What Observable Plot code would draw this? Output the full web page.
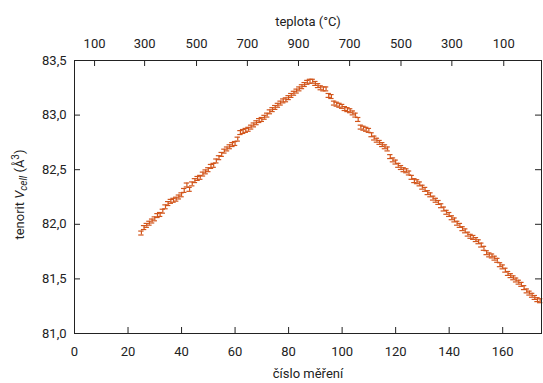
<!DOCTYPE html>
<html><head><meta charset="utf-8">
<script src="https://cdn.jsdelivr.net/npm/d3@7"></script>
<script src="https://cdn.jsdelivr.net/npm/@observablehq/plot@0.6"></script>
<style>body{margin:0;background:#fff} svg{display:block}</style>
</head><body><div id="chart"></div>
<script>
const measurement = [25,26,27,28,29,30,31,32,33,34,35,36,37,38,39,40,41,42,43,44,45,46,47,48,49,50,51,52,53,54,55,56,57,58,59,60,61,62,63,64,65,66,67,68,69,70,71,72,73,74,75,76,77,78,79,80,81,82,83,84,85,86,87,88,89,90,91,92,93,94,95,96,97,98,99,100,101,102,103,104,105,106,107,108,109,110,111,112,113,114,115,116,117,118,119,120,121,122,123,124,125,126,127,128,129,130,131,132,133,134,135,136,137,138,139,140,141,142,143,144,145,146,147,148,149,150,151,152,153,154,155,156,157,158,159,160,161,162,163,164,165,166,167,168,169,170,171,172,173,174];
const volume = [81.92,81.97,81.99,82.01,82.03,82.05,82.08,82.09,82.12,82.16,82.19,82.21,82.22,82.23,82.25,82.27,82.31,82.36,82.32,82.37,82.40,82.42,82.43,82.46,82.48,82.50,82.53,82.54,82.58,82.61,82.64,82.67,82.69,82.71,82.73,82.74,82.78,82.84,82.85,82.86,82.87,82.89,82.91,82.93,82.95,82.96,82.98,83.00,83.03,83.05,83.07,83.09,83.11,83.13,83.14,83.16,83.18,83.20,83.22,83.24,83.26,83.28,83.30,83.31,83.31,83.29,83.27,83.25,83.24,83.24,83.18,83.17,83.11,83.10,83.09,83.08,83.06,83.05,83.04,83.02,83.00,82.96,82.89,82.88,82.87,82.86,82.82,82.79,82.77,82.75,82.73,82.71,82.69,82.62,82.59,82.57,82.54,82.52,82.50,82.49,82.47,82.43,82.40,82.39,82.37,82.34,82.32,82.29,82.27,82.24,82.22,82.20,82.17,82.14,82.11,82.09,82.06,82.04,82.01,81.99,81.96,81.94,81.91,81.89,81.88,81.86,81.84,81.81,81.78,81.74,81.72,81.71,81.69,81.67,81.63,81.61,81.58,81.55,81.53,81.51,81.49,81.47,81.45,81.42,81.39,81.37,81.35,81.33,81.31,81.30];
const volumeError = 0.018;
const xTicks = [0,20,40,60,80,100,120,140,160];
const yTicks = [81.0,81.5,82.0,82.5,83.0,83.5];
const topTickAt = [7.5,26.2,45.6,64.6,83.7,102.8,122.0,141.0,160.4];
const topTickLabels = ["100","300","500","700","900","700","500","300","100"];

const data = measurement.map((m, i) => ({m, v: volume[i]}));
const topLabel = new Map(topTickAt.map((t, i) => [t, topTickLabels[i]]));

const W = 543, H = 383;
const mL = 74, mR = 2, mT = 60, mB = 50;
const fW = W - mL - mR, fH = H - mT - mB;
const tick = 6;
const color = "#d2561c";
const ink = "#222";
const comma = d => d.toFixed(1).replace(".", ",");

const chart = Plot.plot({
  width: W, height: H,
  marginLeft: mL, marginRight: mR, marginTop: mT, marginBottom: mB,
  style: {fontFamily: "Roboto, sans-serif", fontSize: "13px", color: ink, background: "#fff"},
  x: {domain: [0, 174.5]},
  y: {domain: [81, 83.5]},
  marks: [
    Plot.ruleX(data, {x: "m", y1: d => d.v - volumeError, y2: d => d.v + volumeError, stroke: color, strokeWidth: 1.2}),
    Plot.ruleY(data, {y: d => d.v - volumeError, x1: d => d.m - 1, x2: d => d.m + 1, stroke: color, strokeWidth: 1.2}),
    Plot.ruleY(data, {y: d => d.v + volumeError, x1: d => d.m - 1, x2: d => d.m + 1, stroke: color, strokeWidth: 1.2}),
    Plot.frame({stroke: ink, strokeWidth: 1}),
    Plot.ruleX(xTicks, {x: d => d, insetTop: fH - tick, stroke: ink}),
    Plot.ruleX(topTickAt, {x: d => d, insetBottom: fH - tick, stroke: ink}),
    Plot.ruleY(yTicks, {y: d => d, insetRight: fW - tick, stroke: ink}),
    Plot.ruleY(yTicks, {y: d => d, insetLeft: fW - tick, stroke: ink}),
    Plot.axisX(xTicks, {anchor: "bottom", tickSize: 0, tickPadding: 13, label: null, fill: ink}),
    Plot.axisX(topTickAt, {anchor: "top", tickSize: 0, tickPadding: 13, label: null, tickFormat: d => topLabel.get(d), fill: ink}),
    Plot.axisY(yTicks, {anchor: "left", tickSize: 0, tickPadding: 8, label: null, tickFormat: comma, fill: ink}),
    Plot.text(["teplota (°C)"], {text: d => d, frameAnchor: "top", dy: -44, fill: ink, fontSize: 13}),
    Plot.text(["číslo měření"], {text: d => d, frameAnchor: "bottom", dy: 44, fill: ink, fontSize: 13})
  ]
});

const svg = d3.select(chart);
const yl = svg.append("text")
  .attr("transform", `translate(24,${mT + fH / 2 - 2}) rotate(-90)`)
  .attr("text-anchor", "middle")
  .attr("fill", ink)
  .attr("font-family", "Roboto, sans-serif")
  .attr("font-size", 13);
yl.append("tspan").text("tenorit ");
yl.append("tspan").attr("font-style", "italic").text("V");
yl.append("tspan").attr("font-style", "italic").attr("font-size", 10).attr("dy", 3).text("cell");
yl.append("tspan").attr("dy", -3).text(" (Å");
yl.append("tspan").attr("font-size", 10).attr("dy", -5).text("3");
yl.append("tspan").attr("dy", 5).text(")");

document.getElementById("chart").append(chart);
</script>
</body></html>
